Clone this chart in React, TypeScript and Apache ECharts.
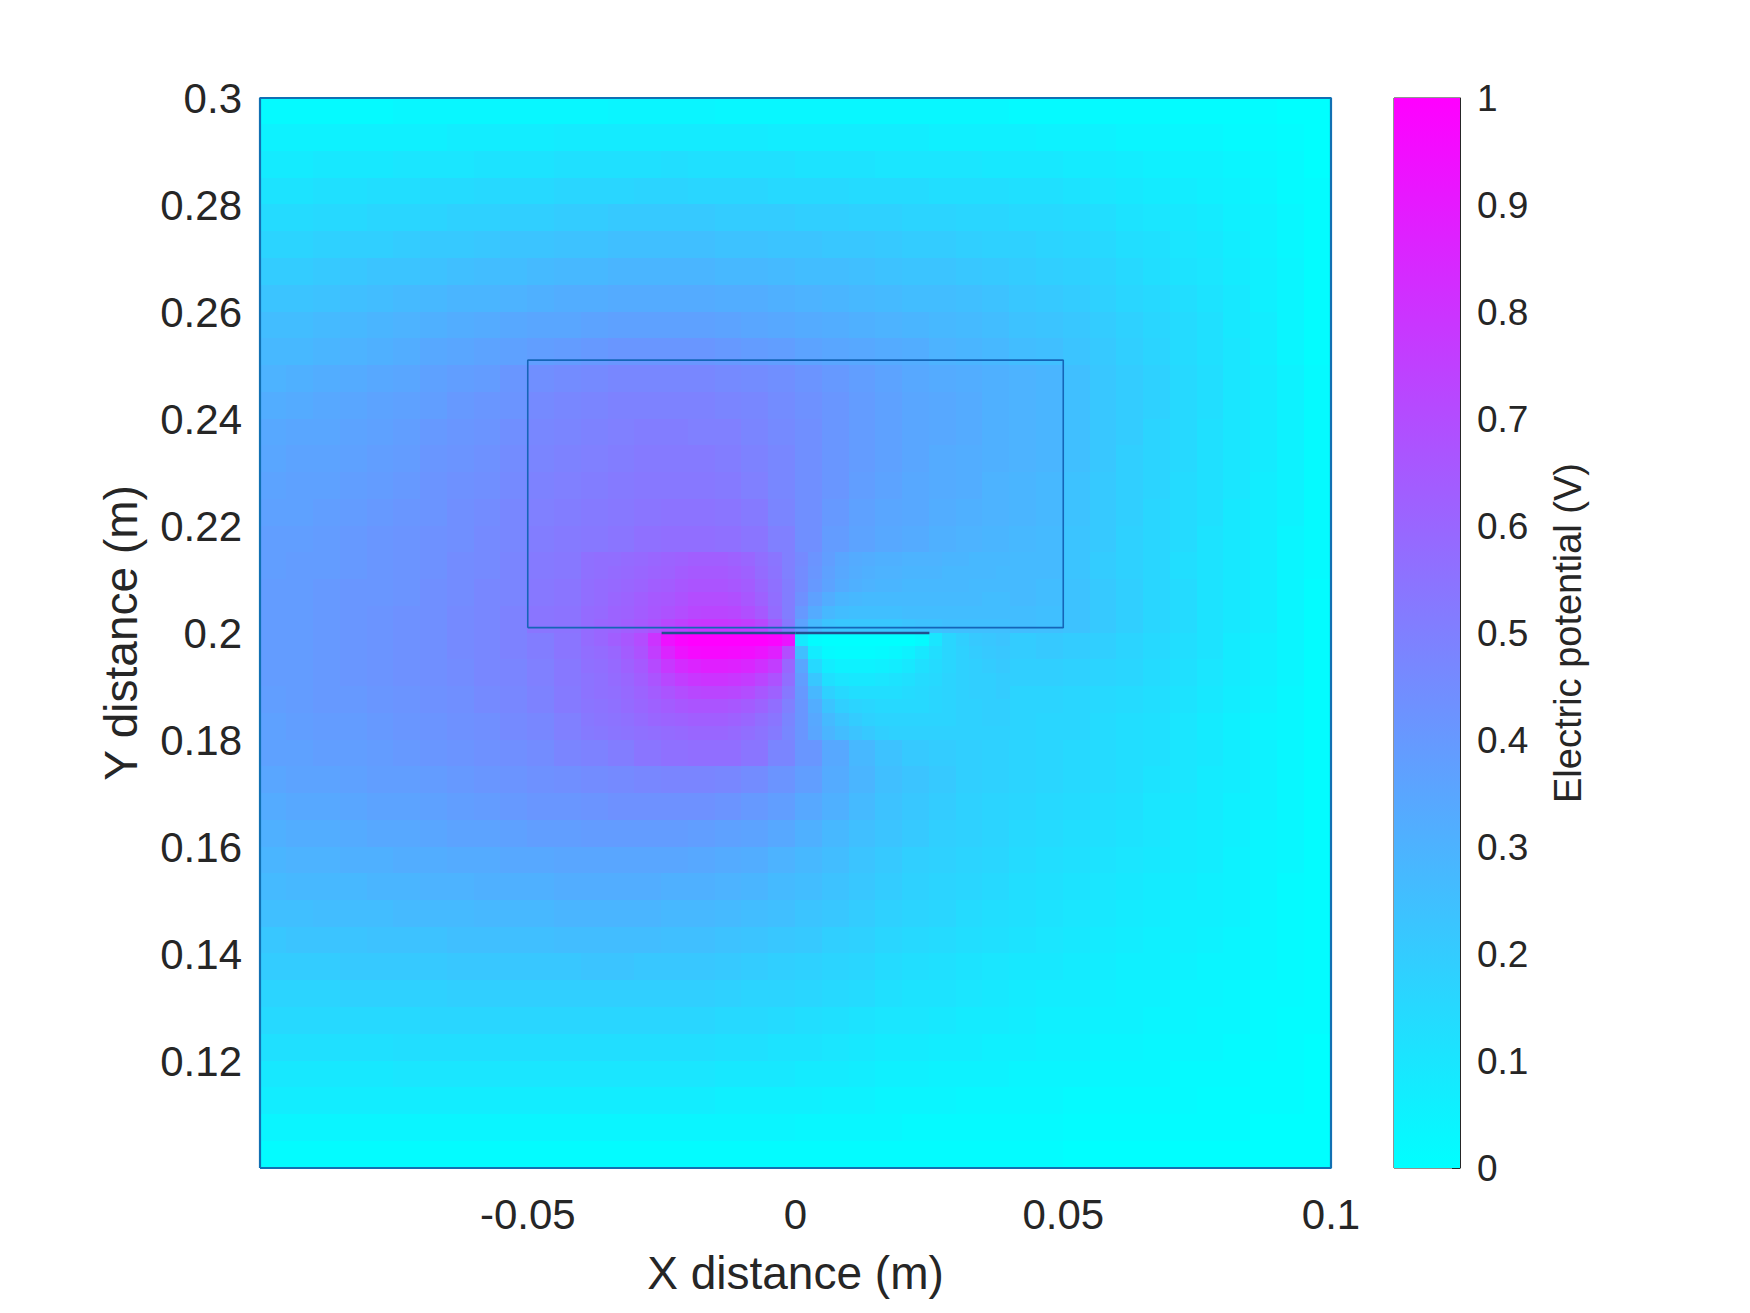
import React, { useEffect, useRef } from "react";
import * as echarts from "echarts";

// Cell centres of the potential grid (m)
const xCenters = [-0.0975,-0.0925,-0.0875,-0.0825,-0.0775,-0.0725,-0.0675,-0.0625,-0.0575,-0.0525,-0.0475,-0.0425,-0.0375,-0.0325,-0.0275,-0.0225,-0.0175,-0.0125,-0.0075,-0.0025,0.0025,0.0075,0.0125,0.0175,0.0225,0.0275,0.0325,0.0375,0.0425,0.0475,0.0525,0.0575,0.0625,0.0675,0.0725,0.0775,0.0825,0.0875,0.0925,0.0975];
// top to bottom
const yCenters = [0.2975,0.2925,0.2875,0.2825,0.2775,0.2725,0.2675,0.2625,0.2575,0.2525,0.2475,0.2425,0.2375,0.2325,0.2275,0.2225,0.2175,0.2125,0.2075,0.2025,0.1975,0.1925,0.1875,0.1825,0.1775,0.1725,0.1675,0.1625,0.1575,0.1525,0.1475,0.1425,0.1375,0.1325,0.1275,0.1225,0.1175,0.1125,0.1075,0.1025];

// Electric potential (V), one row per yCenters entry, one column per xCenters entry
const potentialRows: number[][] = [
  [.02,.02,.02,.02,.02,.03,.03,.03,.03,.03, .03,.03,.03,.04,.04,.04,.04,.03,.03,.03, .03,.03,.03,.03,.03,.03,.03,.03,.02,.02, .02,.02,.02,.02,.01,.01,.01,.01,.00,.00],
  [.05,.05,.05,.06,.06,.06,.06,.07,.07,.07, .07,.08,.08,.08,.08,.08,.08,.08,.08,.07, .07,.07,.07,.07,.07,.06,.06,.06,.06,.05, .05,.05,.04,.04,.03,.03,.02,.02,.01,.00],
  [.08,.08,.09,.09,.09,.10,.10,.10,.11,.11, .11,.12,.12,.12,.12,.13,.12,.12,.12,.12, .11,.11,.11,.10,.10,.10,.10,.09,.09,.09, .08,.08,.07,.06,.05,.05,.04,.03,.02,.00],
  [.11,.11,.12,.12,.13,.13,.14,.14,.15,.15, .15,.16,.16,.16,.17,.17,.16,.16,.16,.15, .15,.15,.14,.14,.14,.13,.13,.13,.12,.12, .11,.10,.09,.08,.07,.06,.05,.04,.02,.01],
  [.14,.14,.15,.15,.16,.16,.17,.18,.18,.19, .19,.20,.20,.21,.21,.21,.21,.20,.20,.20, .19,.19,.18,.18,.17,.17,.16,.16,.15,.15, .14,.13,.11,.10,.09,.08,.06,.05,.03,.01],
  [.17,.17,.18,.19,.19,.20,.21,.21,.22,.23, .23,.24,.24,.25,.25,.25,.25,.24,.24,.23, .23,.22,.22,.21,.20,.20,.19,.18,.18,.17, .16,.15,.13,.12,.10,.09,.07,.05,.03,.01],
  [.20,.20,.21,.22,.23,.23,.24,.25,.26,.26, .27,.28,.28,.29,.29,.29,.29,.28,.28,.27, .26,.26,.25,.24,.23,.23,.22,.21,.20,.19, .18,.17,.15,.13,.11,.10,.08,.06,.04,.01],
  [.23,.23,.24,.25,.26,.27,.28,.29,.29,.30, .31,.32,.32,.33,.33,.33,.33,.32,.32,.31, .30,.29,.28,.27,.26,.26,.25,.24,.22,.21, .20,.18,.16,.15,.13,.11,.09,.06,.04,.01],
  [.26,.26,.27,.28,.29,.30,.31,.32,.33,.34, .35,.35,.36,.37,.37,.37,.37,.36,.35,.34, .33,.32,.31,.30,.29,.28,.27,.26,.24,.23, .22,.20,.18,.16,.14,.12,.09,.07,.04,.01],
  [.28,.28,.29,.30,.31,.32,.34,.35,.36,.37, .38,.39,.40,.41,.41,.41,.41,.40,.39,.38, .36,.35,.34,.33,.32,.30,.29,.28,.26,.25, .23,.21,.19,.17,.14,.12,.10,.07,.04,.01],
  [.30,.31,.32,.33,.34,.35,.37,.38,.39,.41, .44,.45,.46,.47,.47,.47,.47,.46,.45,.44, .42,.40,.38,.36,.34,.33,.32,.31,.30,.29, .25,.22,.20,.18,.15,.13,.10,.08,.05,.02],
  [.32,.33,.34,.35,.36,.37,.38,.40,.41,.42, .46,.47,.48,.49,.49,.49,.49,.48,.47,.45, .43,.41,.39,.37,.35,.34,.33,.31,.30,.29, .25,.22,.20,.18,.15,.13,.10,.08,.05,.02],
  [.34,.35,.35,.36,.37,.38,.40,.41,.42,.44, .47,.48,.49,.50,.51,.51,.50,.50,.48,.46, .44,.41,.39,.37,.35,.34,.33,.31,.30,.29, .25,.22,.20,.17,.15,.12,.10,.08,.05,.02],
  [.35,.36,.36,.37,.38,.39,.41,.42,.43,.45, .48,.49,.50,.51,.52,.52,.52,.51,.49,.47, .44,.41,.39,.37,.35,.33,.32,.31,.30,.29, .25,.22,.19,.17,.15,.12,.10,.08,.05,.02],
  [.36,.37,.37,.38,.39,.40,.42,.43,.44,.46, .49,.50,.51,.52,.53,.53,.53,.52,.50,.47, .44,.41,.38,.36,.34,.33,.32,.30,.29,.28, .24,.21,.19,.17,.14,.12,.10,.07,.05,.02],
  [.37,.37,.38,.39,.40,.41,.42,.44,.45,.47, .50,.51,.52,.53,.54,.55,.55,.54,.52,.48, .44,.40,.37,.35,.34,.32,.31,.30,.29,.28, .24,.21,.19,.16,.14,.12,.09,.07,.05,.02],
  [.38,.38,.39,.40,.41,.42,.43,.44,.46,.47, .51,.52,.53,.54,.56,.57,.57,.56,.54,.50, .44,.39,.36,.34,.33,.31,.30,.29,.28,.27, .23,.21,.18,.16,.14,.11,.09,.07,.04,.02],
  [.38,.39,.39,.40,.41,.42,.43,.45,.46,.48, .52,.53,.55,.57,.59,.61,.63,.63,.60,.53, .44,.38,.34,.32,.30,.29,.28,.28,.27,.27, .23,.20,.18,.16,.13,.11,.09,.07,.04,.02],
  [.39,.39,.40,.41,.41,.42,.44,.45,.47,.48, .53,.54,.56,.58,.61,.64,.66,.66,.63,.55, .42,.35,.32,.30,.29,.28,.28,.27,.27,.26, .24,.21,.19,.16,.14,.11,.09,.07,.04,.01],
  [.39,.39,.40,.41,.42,.43,.44,.46,.47,.49, .54,.55,.57,.59,.63,.68,.72,.73,.70,.60, .38,.30,.28,.27,.27,.27,.27,.26,.26,.25, .24,.21,.19,.16,.14,.11,.09,.07,.04,.01],
  [.39,.39,.40,.41,.42,.43,.44,.46,.47,.49, .51,.54,.58,.63,.72,.90,.97,1.0,.97,.80, .20,.03,.00,.00,.03,.12,.17,.19,.20,.21, .20,.19,.17,.15,.13,.11,.08,.06,.04,.01],
  [.39,.39,.40,.41,.42,.43,.44,.45,.47,.48, .50,.53,.56,.60,.66,.76,.85,.88,.84,.66, .30,.12,.06,.05,.07,.11,.15,.18,.19,.19, .18,.17,.16,.14,.12,.10,.08,.06,.04,.01],
  [.38,.39,.40,.40,.41,.42,.43,.44,.46,.47, .49,.52,.54,.57,.62,.68,.73,.74,.70,.58, .40,.24,.16,.12,.12,.14,.16,.17,.17,.17, .16,.15,.14,.13,.11,.09,.07,.05,.03,.01],
  [.37,.38,.39,.39,.40,.41,.42,.43,.44,.46, .47,.50,.52,.54,.58,.61,.64,.64,.60,.52, .42,.32,.25,.21,.19,.18,.18,.18,.17,.16, .16,.14,.13,.12,.10,.08,.06,.04,.03,.01],
  [.37,.37,.38,.38,.39,.40,.41,.42,.43,.44, .45,.48,.49,.51,.54,.56,.57,.57,.54,.48, .41,.34,.28,.24,.21,.20,.19,.18,.17,.16, .15,.14,.13,.12,.10,.09,.07,.05,.03,.01],
  [.35,.36,.36,.37,.38,.38,.39,.40,.41,.42, .43,.44,.45,.46,.47,.48,.48,.47,.45,.42, .38,.33,.29,.25,.23,.21,.19,.18,.17,.16, .15,.14,.13,.11,.10,.08,.07,.05,.03,.01],
  [.33,.34,.34,.35,.36,.36,.37,.38,.39,.40, .41,.41,.42,.43,.43,.43,.43,.42,.40,.38, .34,.31,.27,.24,.22,.20,.18,.17,.16,.15, .14,.13,.12,.10,.09,.08,.06,.05,.03,.01],
  [.31,.32,.32,.33,.34,.34,.35,.36,.36,.37, .38,.38,.39,.39,.39,.39,.38,.37,.36,.34, .31,.28,.25,.23,.21,.19,.18,.17,.15,.14, .13,.12,.11,.10,.08,.07,.06,.04,.03,.01],
  [.29,.30,.30,.31,.31,.32,.32,.33,.33,.34, .34,.35,.35,.35,.35,.35,.34,.33,.32,.30, .28,.26,.23,.21,.19,.18,.17,.16,.14,.13, .12,.11,.10,.09,.08,.07,.05,.04,.03,.01],
  [.27,.28,.28,.28,.29,.29,.30,.30,.31,.31, .31,.32,.32,.32,.32,.31,.31,.30,.29,.27, .26,.24,.22,.20,.18,.17,.16,.15,.13,.12, .11,.10,.09,.08,.07,.06,.05,.04,.02,.01],
  [.25,.25,.26,.26,.26,.27,.27,.27,.28,.28, .28,.29,.29,.29,.29,.28,.28,.27,.26,.25, .23,.22,.20,.18,.17,.16,.14,.13,.12,.11, .10,.09,.08,.07,.06,.06,.05,.03,.02,.01],
  [.22,.23,.23,.23,.24,.24,.24,.25,.25,.25, .25,.26,.26,.26,.26,.25,.25,.24,.23,.22, .21,.19,.18,.16,.15,.14,.13,.12,.11,.10, .09,.08,.07,.06,.06,.05,.04,.03,.02,.01],
  [.20,.20,.20,.21,.21,.21,.21,.22,.22,.22, .22,.22,.23,.23,.22,.22,.22,.21,.20,.19, .18,.17,.16,.14,.13,.12,.11,.10,.09,.09, .08,.07,.06,.06,.05,.04,.04,.03,.02,.01],
  [.17,.17,.17,.18,.18,.18,.18,.19,.19,.19, .19,.19,.19,.19,.19,.19,.19,.18,.17,.17, .16,.15,.14,.12,.11,.11,.10,.09,.08,.07, .07,.06,.05,.05,.04,.04,.03,.02,.02,.01],
  [.15,.15,.15,.15,.15,.15,.16,.16,.16,.16, .16,.16,.16,.16,.16,.16,.16,.15,.15,.14, .13,.12,.11,.10,.10,.09,.08,.08,.07,.06, .06,.05,.05,.04,.04,.03,.03,.02,.01,.01],
  [.12,.12,.12,.12,.12,.13,.13,.13,.13,.13, .13,.13,.13,.13,.13,.13,.13,.12,.12,.11, .11,.10,.09,.08,.08,.07,.07,.06,.06,.05, .05,.04,.04,.03,.03,.03,.02,.02,.01,.00],
  [.09,.09,.09,.09,.09,.10,.10,.10,.10,.10, .10,.10,.10,.10,.10,.10,.10,.09,.09,.09, .08,.08,.07,.06,.06,.05,.05,.05,.04,.04, .04,.03,.03,.03,.02,.02,.02,.01,.01,.00],
  [.07,.07,.07,.07,.07,.07,.07,.07,.07,.07, .07,.07,.07,.07,.07,.07,.07,.06,.06,.06, .06,.05,.05,.04,.04,.04,.03,.03,.03,.03, .02,.02,.02,.02,.02,.01,.01,.01,.01,.00],
  [.04,.04,.04,.04,.04,.04,.04,.04,.04,.04, .04,.04,.04,.04,.04,.04,.04,.04,.04,.04, .03,.03,.03,.03,.02,.02,.02,.02,.02,.02, .01,.01,.01,.01,.01,.01,.01,.00,.00,.00],
  [.01,.01,.01,.01,.01,.01,.01,.01,.01,.01, .01,.01,.01,.01,.01,.01,.01,.01,.01,.01, .01,.01,.01,.01,.01,.01,.01,.01,.01,.01, .00,.00,.00,.00,.00,.00,.00,.00,.00,.00],
];

// Finer readings around the electrode pair (m)
const xFineCenters = [-0.03875,-0.03625,-0.03375,-0.03125,-0.02875,-0.02625,-0.02375,-0.02125,-0.01875,-0.01625,-0.01375,-0.01125,-0.00875,-0.00625,-0.00375,-0.00125,0.00125,0.00375,0.00625,0.00875,0.01125,0.01375,0.01625,0.01875,0.02125,0.02375,0.02625,0.02875,0.03125,0.03375,0.03625,0.03875];
const yFineCenters = [0.21375,0.21125,0.20875,0.20625,0.20375,0.20125,0.19875,0.19625,0.19375,0.19125,0.18875,0.18625,0.18375,0.18125];
const potentialFineRows: number[][] = [
  [.56,.57,.57,.58,.59,.60,.61,.62,.63,.63,.63,.62,.60,.57,.54,.50,.46,.42,.38,.35,.33,.32,.31,.31,.30,.30,.30,.29,.29,.28,.28,.28],
  [.56,.57,.58,.59,.60,.61,.62,.64,.65,.65,.65,.64,.62,.58,.55,.50,.45,.41,.37,.34,.32,.31,.30,.30,.29,.29,.29,.28,.28,.28,.28,.27],
  [.57,.58,.59,.60,.61,.63,.64,.66,.67,.67,.67,.66,.64,.60,.56,.51,.45,.40,.36,.33,.31,.30,.29,.29,.28,.28,.28,.28,.28,.27,.27,.27],
  [.57,.58,.60,.61,.63,.65,.66,.68,.70,.70,.70,.69,.66,.62,.57,.51,.43,.37,.32,.29,.28,.27,.27,.27,.27,.27,.27,.27,.27,.27,.26,.26],
  [.58,.59,.61,.62,.64,.66,.68,.70,.72,.73,.73,.72,.69,.65,.58,.51,.40,.33,.28,.26,.25,.25,.25,.25,.26,.26,.26,.26,.26,.26,.26,.26],
  [.58,.60,.61,.63,.65,.68,.72,.75,.78,.79,.79,.78,.76,.72,.64,.53,.36,.27,.23,.22,.22,.22,.22,.22,.23,.24,.24,.25,.25,.25,.25,.25],
  [.58,.60,.63,.66,.70,.80,.93,.98,1.0,1.0,1.0,1.0,1.0,1.0,.98,.92,.08,.01,.00,.00,.00,.00,.00,.00,.00,.02,.10,.16,.19,.21,.22,.23],
  [.57,.58,.60,.64,.68,.76,.86,.93,.96,.97,.97,.96,.95,.92,.88,.70,.25,.07,.02,.01,.01,.01,.02,.03,.05,.09,.13,.16,.18,.20,.21,.22],
  [.56,.57,.59,.62,.65,.71,.78,.83,.86,.88,.88,.87,.85,.81,.76,.60,.35,.15,.07,.05,.05,.05,.06,.07,.09,.12,.14,.16,.18,.19,.20,.21],
  [.55,.56,.58,.60,.63,.67,.72,.76,.79,.80,.80,.79,.77,.73,.68,.57,.38,.22,.12,.10,.09,.09,.10,.11,.12,.14,.15,.17,.18,.19,.19,.20],
  [.55,.56,.57,.59,.61,.64,.67,.70,.72,.73,.73,.72,.70,.66,.62,.53,.40,.28,.18,.15,.13,.13,.13,.13,.14,.15,.16,.17,.18,.19,.19,.20],
  [.54,.55,.56,.58,.60,.62,.64,.66,.67,.67,.67,.66,.64,.61,.57,.50,.41,.32,.23,.19,.17,.16,.15,.15,.15,.15,.16,.17,.18,.18,.19,.19],
  [.53,.54,.55,.56,.58,.60,.61,.62,.63,.63,.63,.62,.60,.57,.54,.48,.41,.34,.27,.23,.20,.18,.17,.17,.17,.17,.17,.17,.18,.18,.19,.19],
  [.52,.53,.54,.55,.56,.57,.58,.59,.60,.60,.60,.59,.57,.55,.52,.47,.41,.35,.29,.26,.23,.21,.19,.18,.18,.18,.18,.18,.18,.18,.18,.18],
];

// Geometry (m)
const domainX = [-0.1, 0.1];
const domainY = [0.1, 0.3];
const dielectricX = [-0.05, 0.05];
const dielectricY = [0.201, 0.251];
const electrodeHighX = [-0.025, 0];
const electrodeLowX = [0, 0.025];
const electrodeY = 0.2;

// Axis ticks
const xTickInterval = 0.05;
const yTickInterval = 0.02;
const colorbarRange = [0, 1];
const colorbarTickInterval = 0.1;

const FONT = "'Liberation Sans', Arial, Helvetica, sans-serif";
const TEXT = "#262626";

function fmt(v: number): string {
  return String(parseFloat(v.toFixed(4)));
}

function boxPath(xs: number[], ys: number[]): number[][] {
  return [
    [xs[0], ys[0]],
    [xs[1], ys[0]],
    [xs[1], ys[1]],
    [xs[0], ys[1]],
    [xs[0], ys[0]],
  ];
}

function toCells(rows: number[][], xs: number[], ys: number[]): number[][] {
  const out: number[][] = [];
  rows.forEach((row, r) => row.forEach((v, c) => out.push([xs[c], ys[r], v])));
  return out;
}

function cellSeries(rows: number[][], xs: number[], ys: number[], z: number) {
  const halfX = Math.abs(xs[1] - xs[0]) / 2;
  const halfY = Math.abs(ys[0] - ys[1]) / 2;
  return {
    type: "custom" as const,
    xAxisIndex: 0,
    yAxisIndex: 0,
    silent: true,
    clip: true,
    z,
    data: toCells(rows, xs, ys),
    encode: { x: 0, y: 1 },
    renderItem: (_params: any, api: any) => {
      const cx = api.value(0);
      const cy = api.value(1);
      const a = api.coord([cx - halfX, cy + halfY]);
      const b = api.coord([cx + halfX, cy - halfY]);
      const x0 = Math.floor(a[0]);
      const y0 = Math.floor(a[1]);
      return {
        type: "rect",
        shape: { x: x0, y: y0, width: Math.ceil(b[0]) - x0, height: Math.ceil(b[1]) - y0 },
        style: { fill: api.visual("color") },
      };
    },
  };
}

export default function App() {
  const ref = useRef<HTMLDivElement>(null);

  useEffect(() => {
    document.body.style.margin = "0";
    if (!ref.current) return;
    const chart = echarts.init(ref.current, undefined, { renderer: "svg" });

    const lineBase = {
      type: "line" as const,
      xAxisIndex: 0,
      yAxisIndex: 0,
      symbol: "none",
      silent: true,
      clip: false,
      z: 5,
    };

    chart.setOption({
      animation: false,
      backgroundColor: "#ffffff",
      textStyle: { fontFamily: FONT },
      grid: [
        { left: 260, top: 98, width: 1071, height: 1070, show: false },
        {
          left: 1394,
          top: 98,
          width: 66,
          height: 1070,
          show: true,
          borderColor: TEXT,
          borderWidth: 1,
          backgroundColor: "transparent",
        },
      ],
      visualMap: {
        type: "continuous",
        show: false,
        min: colorbarRange[0],
        max: colorbarRange[1],
        dimension: 2,
        seriesIndex: [0, 1],
        inRange: { color: ["#00ffff", "#ff00ff"] },
      },
      xAxis: [
        {
          type: "value",
          gridIndex: 0,
          min: domainX[0],
          max: domainX[1],
          interval: xTickInterval,
          axisLine: { show: false },
          axisTick: { show: false },
          splitLine: { show: false },
          axisLabel: {
            fontSize: 42,
            color: TEXT,
            fontFamily: FONT,
            margin: 25,
            formatter: (v: number) => (Math.abs(v - domainX[0]) < 1e-9 ? "" : fmt(v)),
          },
          name: "X distance (m)",
          nameLocation: "middle",
          nameGap: 82,
          nameTextStyle: { fontSize: 46, color: TEXT, fontFamily: FONT },
        },
        {
          type: "category",
          gridIndex: 1,
          data: ["cb"],
          show: false,
          boundaryGap: true,
        },
      ],
      yAxis: [
        {
          type: "value",
          gridIndex: 0,
          min: domainY[0],
          max: domainY[1],
          interval: yTickInterval,
          axisLine: { show: false },
          axisTick: { show: false },
          splitLine: { show: false },
          axisLabel: {
            fontSize: 42,
            color: TEXT,
            fontFamily: FONT,
            margin: 18,
            formatter: (v: number) => (Math.abs(v - domainY[0]) < 1e-9 ? "" : fmt(v)),
          },
          name: "Y distance (m)",
          nameLocation: "middle",
          nameGap: 116,
          nameRotate: 90,
          nameTextStyle: { fontSize: 46, color: TEXT, fontFamily: FONT },
        },
        {
          type: "value",
          gridIndex: 1,
          position: "right",
          min: colorbarRange[0],
          max: colorbarRange[1],
          interval: colorbarTickInterval,
          axisLine: { show: true, lineStyle: { color: TEXT, width: 1 } },
          axisTick: { show: true, inside: true, length: 8, lineStyle: { color: TEXT, width: 1 } },
          splitLine: { show: false },
          axisLabel: {
            fontSize: 37,
            color: TEXT,
            fontFamily: FONT,
            margin: 17,
            formatter: (v: number) => fmt(v),
          },
          name: "Electric potential (V)",
          nameLocation: "middle",
          nameGap: 89,
          nameRotate: 90,
          nameTextStyle: { fontSize: 38, color: TEXT, fontFamily: FONT },
        },
      ],
      series: [
        cellSeries(potentialRows, xCenters, yCenters, 1),
        cellSeries(potentialFineRows, xFineCenters, yFineCenters, 2),
        {
          type: "bar",
          xAxisIndex: 1,
          yAxisIndex: 1,
          silent: true,
          barWidth: "100%",
          data: [colorbarRange[1]],
          itemStyle: {
            color: new echarts.graphic.LinearGradient(0, 1, 0, 0, [
              { offset: 0, color: "#00ffff" },
              { offset: 1, color: "#ff00ff" },
            ]),
          },
          z: 1,
        },
        {
          ...lineBase,
          data: boxPath(dielectricX, dielectricY),
          lineStyle: { color: "#1565b8", width: 1.6 },
        },
        {
          ...lineBase,
          data: electrodeHighX.map((x) => [x, electrodeY]),
          lineStyle: { color: "#22508f", width: 2.6 },
        },
        {
          ...lineBase,
          data: electrodeLowX.map((x) => [x, electrodeY]),
          lineStyle: { color: "#22508f", width: 2.6 },
        },
        {
          ...lineBase,
          data: boxPath(domainX, domainY),
          lineStyle: { color: "#1170b3", width: 2.2 },
        },
      ],
    });

    return () => chart.dispose();
  }, []);

  return <div ref={ref} style={{ width: 1750, height: 1313 }} />;
}
